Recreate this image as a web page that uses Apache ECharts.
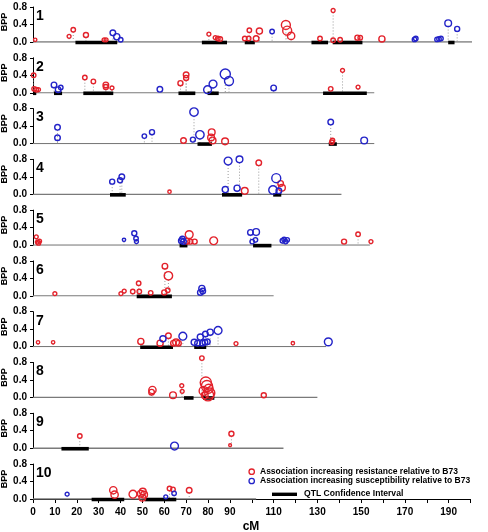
<!DOCTYPE html>
<html><head><meta charset="utf-8">
<script src="https://cdn.jsdelivr.net/npm/echarts/dist/echarts.min.js"></script>
<style>html,body{margin:0;padding:0;background:#fff}#c{width:488px;height:532px}</style>
</head><body><div id="c"></div><script>
// ---- data: [cM, BPP, effect(relative marker size)] ----
const chrNames = ['1','2','3','4','5','6','7','8','9','10'];
const chrLength = [203, 156, 156, 141, 154, 110, 134, 130, 114.5, 102];
const yTicks = [0.0, 0.2, 0.4, 0.6, 0.8];

const res1 = [[1,0.05,3],[16.5,0.13,3.5],[18.4,0.28,4],[24.2,0.16,4.5],[32.5,0.05,3.5],[33.4,0.05,3.5],[80.4,0.18,3.5],[83.3,0.10,3.5],[84.5,0.08,4],[85.6,0.07,4],[96.8,0.08,4],[98.6,0.08,4],[98.9,0.27,4],[102,0.08,5],[103.5,0.25,5.5],[115.6,0.39,8],[116.2,0.26,8],[118,0.14,6.5],[131.2,0.08,4],[137.2,0.72,3.5],[137.2,0.04,4],[140.4,0.05,4],[148.3,0.10,4.5],[149.6,0.10,4],[159.5,0.07,5.5]];
const sus1 = [[36.5,0.21,5],[38.3,0.12,5.5],[40.1,0.05,4],[109.3,0.24,4],[174.4,0.06,4],[175,0.08,4],[184.7,0.06,4],[185.6,0.07,4],[186.5,0.08,4],[189.8,0.43,6],[193.9,0.30,4.5]];
const qtl1 = [[19.4,38.5],[77.2,88.7],[96.8,101.4],[127.3,134.9],[137,150.6],[189.8,192.7]];

const res2 = [[0.3,0.40,4],[0.5,0.09,4],[1.5,0.07,4],[2.5,0.07,3.5],[23.7,0.35,4],[27.6,0.26,4],[33.3,0.18,5],[33.3,0.13,4.5],[36.1,0.11,3.5],[67.4,0.22,4.5],[70,0.41,5],[70,0.34,4.5],[136.1,0.09,4],[141.5,0.51,3.5],[148.6,0.13,3.5]];
const sus2 = [[9.6,0.18,5],[11.5,0.07,5],[12.7,0.12,4],[58,0.08,5],[79.8,0.07,7],[82.3,0.20,7],[87.9,0.43,9],[89.6,0.27,8],[110,0.11,5]];
const qtl2 = [[0,1.5],[9.6,13.3],[23,36.7],[66.5,74.2],[79.8,84.9],[132.6,152.6]];

const res3 = [[68.8,0.07,5],[81.7,0.26,6],[81.4,0.14,6],[82.1,0.07,6],[87.8,0.05,6],[136.9,0.07,4],[136.6,0.03,4]];
const sus3 = [[11.2,0.37,5],[11.2,0.13,5],[50.9,0.17,4],[54.4,0.26,4.5],[73.1,0.09,4.5],[73.6,0.72,7.5],[76.3,0.20,7.5],[136.1,0.49,5],[151.4,0.07,6]];
const qtl3 = [[75.2,81.8],[135.2,138.9]];

const res4 = [[62.4,0.06,3],[96.8,0.08,6],[103.2,0.72,5],[113.2,0.25,5],[113.8,0.15,6]];
const sus4 = [[36.2,0.29,4.5],[39.8,0.32,4.5],[40.6,0.40,5],[87.9,0.11,5.5],[89.2,0.76,7],[93.3,0.14,5.5],[94.4,0.80,6],[109.7,0.10,7.5],[111.2,0.37,8],[112.4,0.08,5]];
const qtl4 = [[35.2,42.4],[86.4,95.6],[109.8,113.5]];

const res5 = [[1.5,0.19,3.5],[2.0,0.07,3.5],[3.0,0.09,3.5],[2.5,0.05,4],[70.4,0.09,5],[71.4,0.24,7],[71.9,0.08,4.5],[73.9,0.08,4.5],[82.6,0.10,7],[142.2,0.08,4.5],[148.6,0.25,4],[154.5,0.08,3.5]];
const sus5 = [[41.6,0.12,3],[46.3,0.27,4.5],[47.1,0.15,4],[47.3,0.08,3.5],[67.8,0.10,5],[68.3,0.14,5],[68.8,0.08,5],[99.4,0.29,5],[102,0.30,6],[100.2,0.08,4],[101.7,0.12,4],[114,0.10,4],[114.8,0.13,4],[115.5,0.08,4],[116.2,0.12,4]];
const qtl5 = [[67,70.6],[100.6,109]];

const res6 = [[10,0.05,3.5],[40.2,0.05,3.5],[41.7,0.11,3.5],[45.6,0.10,4],[48.3,0.29,4],[48.6,0.10,4],[53.8,0.07,4],[60,0.08,4.5],[60.3,0.68,5],[61.9,0.46,7.5],[61.6,0.13,4]];
const sus6 = [[77.2,0.17,5.5],[76.5,0.08,5],[77.6,0.11,5]];
const qtl6 = [[47.4,63.5]];

const res7 = [[2.3,0.10,3],[9.2,0.10,3],[49.3,0.12,5.5],[58.1,0.08,5.5],[61.9,0.25,5],[64.2,0.08,5],[65.4,0.10,6],[66.5,0.08,5],[92.8,0.07,3.5],[118.8,0.08,3]];
const sus7 = [[59.4,0.18,5.5],[68.5,0.24,7],[73.7,0.10,5.5],[75.2,0.08,5],[76.5,0.22,5.5],[77.5,0.08,5],[78.6,0.10,5],[79.7,0.11,5],[78.8,0.29,5],[81,0.33,5.5],[84.6,0.37,7],[135,0.11,7]];
const qtl7 = [[49,64],[73.7,79.2]];

const res8 = [[54.6,0.17,6.5],[54.2,0.12,5],[64,0.05,6],[68,0.27,3.5],[68.2,0.14,3.5],[77.2,0.90,4],[79,0.34,10],[79.5,0.26,10],[80.3,0.20,8],[78,0.15,8],[80.8,0.10,9],[80,0.05,10],[78.5,0.05,6],[105.5,0.05,4.5]];
const sus8 = [];
const qtl8 = [[69,73.4],[77.7,82.9]];

const res9 = [[21.4,0.28,4],[90.7,0.33,4.5],[90.1,0.07,2.5]];
const sus9 = [[64.7,0.05,7]];
const qtl9 = [[13,25.5]];

const res10 = [[36.7,0.20,6.5],[37.3,0.10,6.5],[45.7,0.11,7],[49.3,0.12,6],[50.2,0.17,6],[50.8,0.10,6],[50.0,0.03,6],[62.4,0.24,4],[64,0.22,4],[71.4,0.20,5]];
const sus10 = [[15.6,0.11,3.5],[60.7,0.05,3.5],[64.5,0.13,4]];
const qtl10 = [[26.8,41.7],[51.2,65.5]];

const resAll = [res1,res2,res3,res4,res5,res6,res7,res8,res9,res10];
const susAll = [sus1,sus2,sus3,sus4,sus5,sus6,sus7,sus8,sus9,sus10];
const qtlAll = [qtl1,qtl2,qtl3,qtl4,qtl5,qtl6,qtl7,qtl8,qtl9,qtl10];

// ---- styling / layout ----
const RED = '#e3222b', BLUE = '#2323c8';
const FONT = '"Liberation Sans", Arial, Helvetica, sans-serif';
const LEFT = 33, WIDTH = 437.5, TOP0 = 7, STEP = 50.78, H = 35;
const SIZE_SCALE = 1.12;

const chart = echarts.init(document.getElementById('c'), null, {renderer:'canvas'});
const grids = [], xAxes = [], yAxes = [], series = [], graphics = [];

chrNames.forEach((name, i) => {
  const top = TOP0 + i * STEP;
  grids.push({left: LEFT, top: top, width: WIDTH, height: H});
  const last = i === chrNames.length - 1;
  xAxes.push({
    gridIndex: i, type: 'value', min: 0, max: 200, interval: 10,
    show: last, offset: 2,
    axisLine: {show: true, lineStyle: {color: '#000', width: 1}},
    axisTick: {show: true, length: 4, lineStyle: {color: '#000'}},
    axisLabel: {show: true, margin: 6, fontSize: 10, fontWeight: 'bold', color: '#000', fontFamily: FONT,
      showMinLabel: true, formatter: v => (v < 100 || v % 20 === 10) ? String(v) : ''},
    splitLine: {show: false}
  });
  yAxes.push({
    gridIndex: i, type: 'value', min: yTicks[0], max: yTicks[yTicks.length-1], interval: 0.2, offset: 2,
    axisLine: {show: true, lineStyle: {color: '#000', width: 1}},
    axisTick: {show: true, length: 3, lineStyle: {color: '#000'}},
    axisLabel: {margin: 4, fontSize: 10, fontWeight: 'bold', color: '#000', fontFamily: FONT,
      showMinLabel: true, showMaxLabel: true, hideOverlap: false, lineHeight: 8,
      formatter: v => v.toFixed(1)},
    splitLine: {show: false}
  });
  // chromosome baseline
  series.push({type: 'line', xAxisIndex: i, yAxisIndex: i, data: [[0,0],[chrLength[i],0]],
    symbol: 'none', silent: true, z: 1, lineStyle: {color: '#7a7a7a', width: 1.3}});
  // dotted drop lines
  const pts = resAll[i].concat(susAll[i]);
  series.push({type: 'custom', xAxisIndex: i, yAxisIndex: i, data: pts, silent: true, z: 2, clip: false,
    renderItem: (params, api) => {
      const p = api.coord([api.value(0), api.value(1)]);
      const b = api.coord([api.value(0), 0]);
      const r = api.value(2) * SIZE_SCALE / 2;
      if (b[1] - (p[1] + r) < 1) return null;
      return {type: 'line', shape: {x1: p[0], y1: p[1] + r, x2: b[0], y2: b[1]},
        style: {stroke: '#9a9a9a', lineWidth: 1, lineDash: [1, 2]}};
    }});
  // QTL confidence intervals
  series.push({type: 'custom', xAxisIndex: i, yAxisIndex: i, data: qtlAll[i], silent: true, z: 3, clip: false,
    encode: {x: [0, 1]},
    renderItem: (params, api) => {
      const s = api.coord([api.value(0), 0]);
      const e = api.coord([api.value(1), 0]);
      return {type: 'rect', shape: {x: s[0], y: s[1] - 1.3, width: e[0] - s[0], height: 3.6},
        style: {fill: '#000'}};
    }});
  // circles
  [[resAll[i], RED], [susAll[i], BLUE]].forEach(([d, col]) => {
    series.push({type: 'scatter', xAxisIndex: i, yAxisIndex: i, data: d, z: 5, clip: false,
      symbol: 'circle', symbolSize: v => v[2] * SIZE_SCALE,
      itemStyle: {color: 'rgba(0,0,0,0)', borderColor: col, borderWidth: 1.4, opacity: 1},
      emphasis: {disabled: true}});
  });
  // panel label + BPP
  graphics.push({type: 'text', x: 36, y: top + 9, style: {text: name, font: 'bold 14px ' + FONT, fill: '#000', verticalAlign: 'middle'}});
  graphics.push({type: 'text', x: 5, y: top + 15, rotation: Math.PI / 2,
    style: {text: 'BPP', font: 'bold 9px ' + FONT, fill: '#000', align: 'center', verticalAlign: 'middle'}});
});

// axis title and legend
graphics.push({type: 'text', x: 251, y: 527, style: {text: 'cM', font: 'bold 12px ' + FONT, fill: '#000', align: 'center', verticalAlign: 'middle'}});
graphics.push({type: 'circle', shape: {cx: 251.7, cy: 471.7, r: 2.7}, style: {fill: 'none', stroke: RED, lineWidth: 1.3}});
graphics.push({type: 'text', x: 260, y: 471.7, style: {text: 'Association increasing resistance relative to B73', font: 'bold 8.5px ' + FONT, fill: '#000', verticalAlign: 'middle'}});
graphics.push({type: 'circle', shape: {cx: 251.7, cy: 481, r: 2.7}, style: {fill: 'none', stroke: BLUE, lineWidth: 1.3}});
graphics.push({type: 'text', x: 260, y: 481, style: {text: 'Association increasing susceptibility relative to B73', font: 'bold 8.5px ' + FONT, fill: '#000', verticalAlign: 'middle'}});
graphics.push({type: 'rect', shape: {x: 272, y: 492.6, width: 25, height: 3.4}, style: {fill: '#000'}});
graphics.push({type: 'text', x: 304, y: 494, style: {text: 'QTL Confidence Interval', font: 'bold 8.6px ' + FONT, fill: '#000', verticalAlign: 'middle'}});

chart.setOption({
  animation: false,
  backgroundColor: '#fff',
  grid: grids, xAxis: xAxes, yAxis: yAxes, series: series,
  graphic: graphics
});
</script></body></html>
